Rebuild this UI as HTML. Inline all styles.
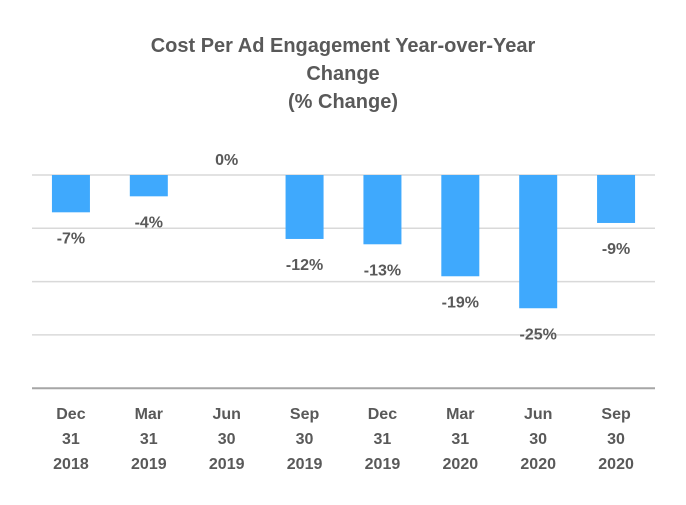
<!DOCTYPE html>
<html><head><meta charset="utf-8"><style>
body{margin:0;background:#fff;font-family:"Liberation Sans",Arial,sans-serif}
svg text{font-family:"Liberation Sans",Arial,sans-serif;font-weight:bold;fill:#595959}
</style></head><body>
<svg id="chart" width="686" height="500">
<g>
<text x="343" y="52" text-anchor="middle" font-size="20">Cost Per Ad Engagement Year-over-Year</text>
<text x="343" y="80" text-anchor="middle" font-size="20">Change</text>
<text x="343" y="108" text-anchor="middle" font-size="20">(% Change)</text>
</g>
<g id="grid"></g><g id="bars"></g><g id="labels"></g><g id="xlabels"></g>
</svg>
<script>
const categories=[["Dec","31","2018"],["Mar","31","2019"],["Jun","30","2019"],["Sep","30","2019"],["Dec","31","2019"],["Mar","31","2020"],["Jun","30","2020"],["Sep","30","2020"]];
const values=[-7,-4,0,-12,-13,-19,-25,-9];
const valueLabels=["-7%","-4%","0%","-12%","-13%","-19%","-25%","-9%"];
const gridTicks=[0,-10,-20,-30,-40];
const ns="http://www.w3.org/2000/svg";
const L=32,R=655,y0=175,pxPer=5.33;
const y=v=>y0-v*pxPer;
const step=(R-L)/categories.length;
const xc=i=>L+step*(i+0.5);
function mk(t,a,p){const e=document.createElementNS(ns,t);for(const k in a)e.setAttribute(k,a[k]);document.getElementById(p).appendChild(e);return e;}
gridTicks.forEach(t=>{const e=mk("line",{x1:L,x2:R,y1:y(t),y2:y(t),stroke:t===-40?"#a6a6a6":"#d9d9d9","stroke-width":t===-40?2:1.5},"grid");

});
values.forEach((v,i)=>{
const b=mk("rect",{x:xc(i)-19,width:38,y:Math.min(y(v),y0),height:Math.abs(y(v)-y0),fill:"#3fa9fd"},"bars");


const ly=v<0?y(v)+31:y0-10;
const t=mk("text",{x:xc(i),y:ly,"text-anchor":"middle","font-size":16},"labels");t.textContent=valueLabels[i];


categories[i].forEach((s,j)=>{const c=mk("text",{x:xc(i),y:419+j*25,"text-anchor":"middle","font-size":16},"xlabels");c.textContent=s;

});
});
</script>
</body></html>
